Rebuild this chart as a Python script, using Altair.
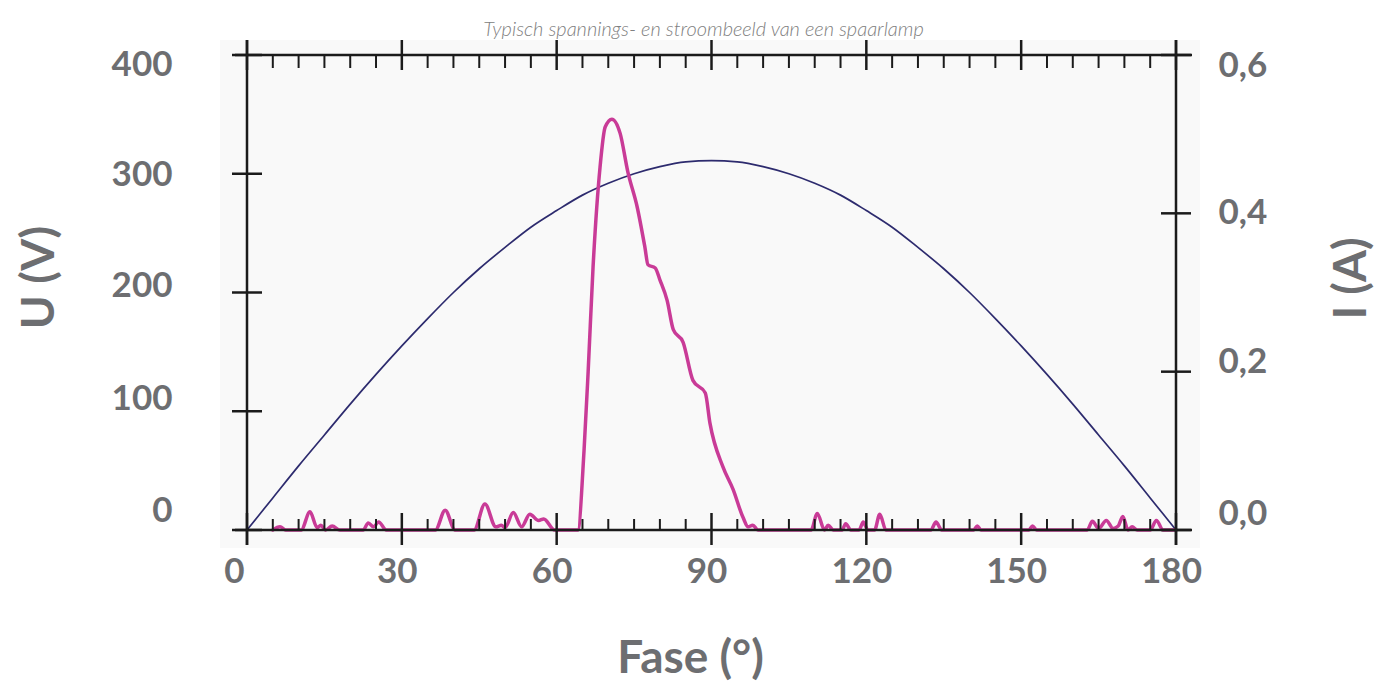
import altair as alt
import pandas as pd

# ---------------- data ----------------
phase_deg = [0, 5, 10, 15, 20, 25, 30, 35, 40, 45, 50, 55, 60, 65, 70, 75, 80, 85, 90,
             95, 100, 105, 110, 115, 120, 125, 130, 135, 140, 145, 150, 155, 160, 165, 170, 175, 180]
voltage_v = [0, 27, 54, 80, 106, 131, 155, 178, 200, 220, 238, 255, 269, 282, 292, 300, 306, 310, 311,
             310, 306, 300, 292, 282, 269, 255, 238, 220, 200, 178, 155, 131, 106, 80, 54, 27, 0]

current_deg = [5.0, 6.4, 7.5, 10.5, 12.2, 13.6, 14.3, 15.2, 16.5, 18.0, 22.5, 23.5, 24.5, 25.5, 27.0,
               36.5, 38.4, 40.3, 44.0, 46.1, 48.2, 49.3, 50.0, 51.6, 53.2, 54.8, 56.5, 57.5, 59.6,
               64.1, 65.3, 66.1, 67.05, 68.4, 69.4, 70.7, 72.3, 73.8, 75.6, 77.1, 77.7, 79.1, 80.0,
               81.4, 82.6, 84.5, 86.4, 88.8, 89.7, 92.2, 94.2, 96.1, 97.1, 98.0, 99.0,
               109.3, 110.5, 111.9, 112.6, 113.6, 115.3, 116.0, 117.0, 118.6, 119.4, 120.3, 121.6,
               122.6, 123.8, 132.5, 133.5, 134.6, 140.8, 141.5, 142.2, 151.5, 152.2, 153.0,
               162.8, 163.8, 165.0, 166.5, 167.8, 168.8, 169.7, 170.7, 171.5, 172.5, 175.0, 176.2,
               177.5, 180.0]
current_a = [0.0, 0.004, 0.0, 0.0, 0.023, 0.003, 0.006, 0.0, 0.005, 0.0, 0.0, 0.009, 0.004, 0.010, 0.0,
             0.0, 0.025, 0.0, 0.0, 0.033, 0.004, 0.006, 0.003, 0.022, 0.004, 0.020, 0.012, 0.014, 0.0,
             0.0, 0.10, 0.20, 0.332, 0.458, 0.509, 0.519, 0.501, 0.452, 0.408, 0.357, 0.335, 0.331, 0.316,
             0.290, 0.253, 0.237, 0.189, 0.173, 0.135, 0.080, 0.051, 0.016, 0.004, 0.006, 0.0,
             0.0, 0.021, 0.0, 0.006, 0.0, 0.0, 0.008, 0.0, 0.0, 0.010, 0.0, 0.0,
             0.020, 0.0, 0.0, 0.010, 0.0, 0.0, 0.005, 0.0, 0.0, 0.005, 0.0,
             0.0, 0.011, 0.002, 0.012, 0.002, 0.005, 0.017, 0.0, 0.004, 0.0, 0.0, 0.012,
             0.0, 0.0]

x_major = [0, 30, 60, 90, 120, 150, 180]
x_minor = [5, 10, 15, 20, 25, 35, 40, 45, 50, 55, 65, 70, 75, 80, 85, 95, 100, 105, 110, 115,
           125, 130, 135, 140, 145, 155, 160, 165, 170, 175]
u_ticks = [0, 100, 200, 300, 400]
i_ticks = [0.0, 0.2, 0.4, 0.6]

# ---------------- style ----------------
W, H = 929, 475
GRAY = "#6d6e71"
BLACK = "#1b1b1b"
FONT = "Lato"

volt_df = pd.DataFrame({"deg": phase_deg, "U": voltage_v})
cur_df = pd.DataFrame({"deg": current_deg, "I": current_a})
xmaj_df = pd.DataFrame({"deg": x_major})
xmin_df = pd.DataFrame({"deg": x_minor})
u_df = pd.DataFrame({"U": u_ticks})
i_df = pd.DataFrame({"I": i_ticks})
one = pd.DataFrame({"k": [0]})

xscale = alt.Scale(domain=[0, 180], nice=False, zero=False)
uscale = alt.Scale(domain=[0, 400], nice=False)
iscale = alt.Scale(domain=[0, 0.6], nice=False)

xaxis = alt.Axis(values=x_major, format="d", title="Fase (°)", domain=False, ticks=False, grid=False,
                 labelFont=FONT, labelFontSize=35, labelFontWeight="bold", labelColor=GRAY,
                 labelBaseline="top", labelPadding=24, labelFlush=False, labelOverlap=False,
                 labelOffset={"condition": {"test": "datum.value == 0", "value": -13}, "value": -5},
                 titleFont=FONT, titleFontSize=46, titleFontWeight="bold", titleColor=GRAY,
                 titleX=443, titleY=128, titleAlign="center", titleBaseline="middle")

uaxis = alt.Axis(orient="left", values=u_ticks, format="d", title="U (V)", domain=False, ticks=False,
                 grid=False, labelFont=FONT, labelFontSize=35, labelFontWeight="bold", labelColor=GRAY,
                 labelPadding=75, labelBaseline="middle", labelOverlap=False, labelFlush=False,
                 labelOffset={"condition": [
                     {"test": "datum.value == 400", "value": 9},
                     {"test": "datum.value == 300", "value": 1},
                     {"test": "datum.value == 200", "value": -7},
                     {"test": "datum.value == 100", "value": -13}], "value": -20},
                 titleFont=FONT, titleFontSize=46, titleFontWeight="bold", titleColor=GRAY,
                 titleAngle=270, titleX=-208, titleY=222, titleAlign="center", titleBaseline="middle")

iaxis = alt.Axis(orient="right", values=i_ticks, title="I (A)", domain=False, ticks=False, grid=False,
                 labelExpr="replace(format(datum.value, '.1f'), '.', ',')",
                 labelFont=FONT, labelFontSize=35, labelFontWeight="bold", labelColor=GRAY,
                 labelPadding=42, labelBaseline="middle", labelOverlap=False, labelFlush=False,
                 labelOffset={"condition": [
                     {"test": "datum.value > 0.5", "value": 10},
                     {"test": "datum.value > 0.3", "value": -1},
                     {"test": "datum.value > 0.1", "value": -10}], "value": -17},
                 titleFont=FONT, titleFontSize=46, titleFontWeight="bold", titleColor=GRAY,
                 titleAngle=270, titleX=175, titleY=223, titleAlign="center", titleBaseline="middle")


def X():
    return alt.X("deg:Q", scale=xscale, axis=xaxis)


def YU():
    return alt.Y("U:Q", scale=uscale, axis=uaxis)


def YI():
    return alt.Y("I:Q", scale=iscale, axis=iaxis)


# background panel
bg = alt.Chart(one).mark_rect(color="#f9f9f9").encode(
    x=alt.value(-27), x2=alt.value(W + 24), y=alt.value(-15), y2=alt.value(H + 18))

volt_line = alt.Chart(volt_df).mark_line(color="#2d2b6e", strokeWidth=1.7, interpolate="monotone").encode(
    x=X(), y=YU())
u_tick = alt.Chart(u_df).mark_rule(color=BLACK, strokeWidth=2.5).encode(
    y=YU(), x=alt.value(-15), x2=alt.value(15))

cur_line = alt.Chart(cur_df).mark_line(color="#c93b97", strokeWidth=3.5, interpolate="monotone",
                                       strokeJoin="round", strokeCap="round").encode(x=X(), y=YI())
i_tick = alt.Chart(i_df).mark_rule(color=BLACK, strokeWidth=2.5).encode(
    y=YI(), x=alt.value(W - 15), x2=alt.value(W + 15))

frame_bottom = alt.Chart(one).mark_rule(color=BLACK, strokeWidth=2.5).encode(
    x=alt.value(-12), x2=alt.value(W + 16), y=alt.value(H))
frame_top = alt.Chart(one).mark_rule(color=BLACK, strokeWidth=2.5).encode(
    x=alt.value(-12), x2=alt.value(W + 16), y=alt.value(0))
frame_left = alt.Chart(one).mark_rule(color=BLACK, strokeWidth=2.5).encode(
    x=alt.value(0), y=alt.value(-15), y2=alt.value(H + 15))
frame_right = alt.Chart(one).mark_rule(color=BLACK, strokeWidth=2.5).encode(
    x=alt.value(W), y=alt.value(-15), y2=alt.value(H + 15))

xmaj_b = alt.Chart(xmaj_df).mark_rule(color=BLACK, strokeWidth=2.5).encode(
    x=X(), y=alt.value(H - 17), y2=alt.value(H + 15))
xmin_b = alt.Chart(xmin_df).mark_rule(color=BLACK, strokeWidth=2).encode(
    x=X(), y=alt.value(H - 11), y2=alt.value(H))
xmaj_t = alt.Chart(xmaj_df).mark_rule(color=BLACK, strokeWidth=2.5).encode(
    x=X(), y=alt.value(-15), y2=alt.value(15))
xmin_t = alt.Chart(xmin_df).mark_rule(color=BLACK, strokeWidth=2).encode(
    x=X(), y=alt.value(0), y2=alt.value(13))

left_group = alt.layer(bg, volt_line, u_tick)
right_group = alt.layer(cur_line, i_tick)
frame_group = alt.layer(frame_bottom, frame_top, frame_left, frame_right, xmaj_b, xmin_b, xmaj_t, xmin_t)

chart = alt.layer(left_group, right_group, frame_group).resolve_scale(y="independent").properties(
    width=W, height=H,
    autosize=alt.AutoSizeParams(type="none"),
    padding={"left": 239, "top": 47, "right": 200, "bottom": 153},
    title=alt.TitleParams("Typisch spannings- en stroombeeld van een spaarlamp", font=FONT,
                          fontSize=20, fontStyle="italic", fontWeight=300, color="#808080",
                          offset=6, dy=7, dx=-8, anchor="middle"),
).configure_view(stroke=None).configure(background="white")

chart.save("out.html", embed_options={"renderer": "svg", "actions": False})
